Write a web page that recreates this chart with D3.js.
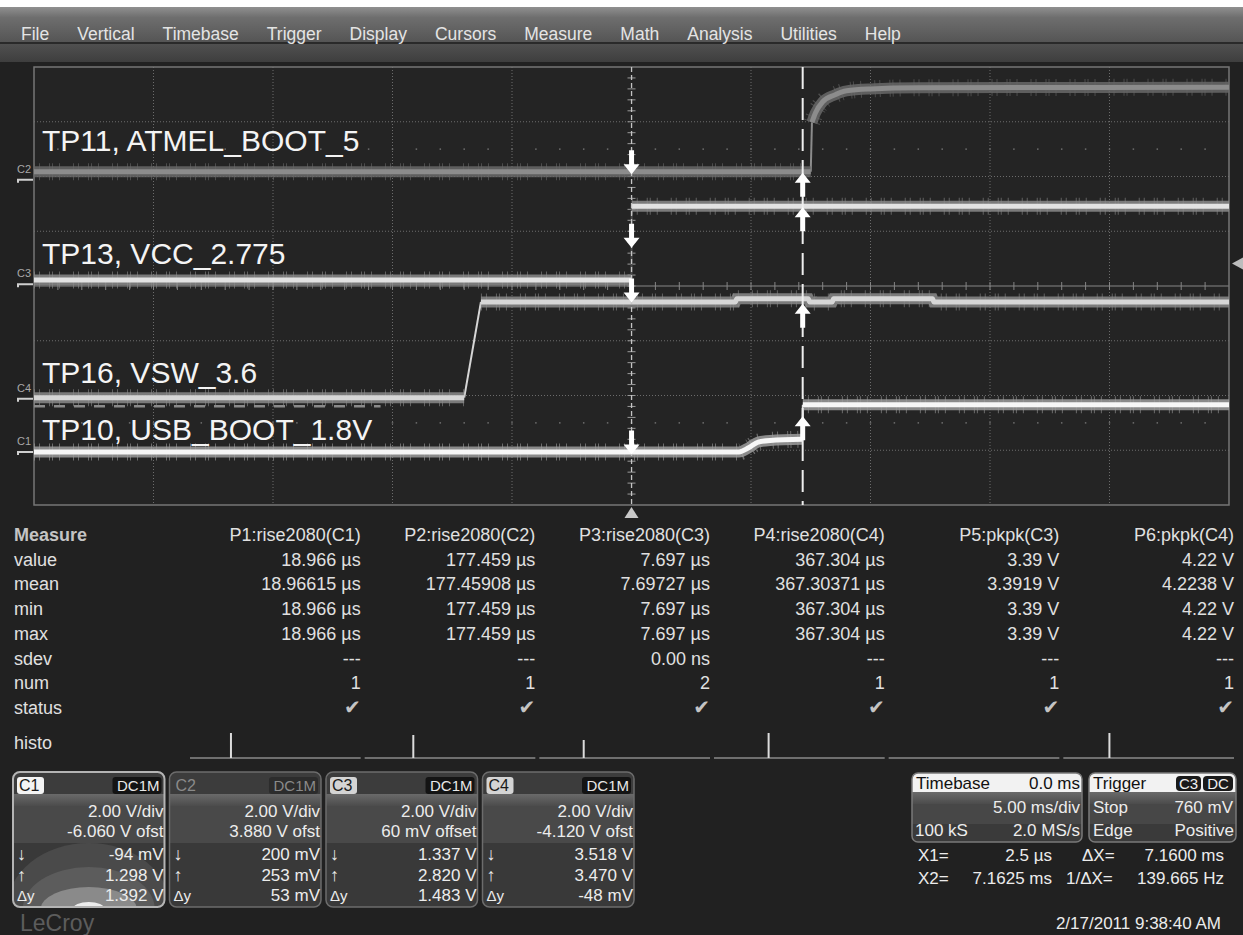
<!DOCTYPE html>
<html lang="en">
<head>
<meta charset="UTF-8">
<title>LeCroy capture</title>
<script src="https://cdn.jsdelivr.net/npm/d3@7"></script>
<style>
  body { margin: 0; background: #212121; }
  svg { display: block; font-family: "Liberation Sans", Arial, sans-serif; }
</style>
</head>
<body>
<script>
// ---- data ----
var menuItems = ["File", "Vertical", "Timebase", "Trigger", "Display", "Cursors", "Measure", "Math", "Analysis", "Utilities", "Help"];

var channels = ["C1", "C2", "C3", "C4"];
var traceNames = ["TP10, USB_BOOT_1.8V", "TP11, ATMEL_BOOT_5", "TP13, VCC_2.775", "TP16, VSW_3.6"];
var couplings = ["DC1M", "DC1M", "DC1M", "DC1M"];
var voltsPerDiv = [2.0, 2.0, 2.0, 2.0];
var offsets = [-6.060, 3.880, 0.060, -4.120];
var offsetLabels = ["-6.060 V ofst", "3.880 V ofst", "60 mV offset", "-4.120 V ofst"];

// cursor readings (volts) at X1 and X2
var x1Time = 0.0025, x2Time = 7.1625;   // ms
var cursorDown = [-0.094, 0.200, 1.337, 3.518];
var cursorUp = [1.298, 0.253, 2.820, 3.470];
var downLabels = ["-94 mV", "200 mV", "1.337 V", "3.518 V"];
var upLabels = ["1.298 V", "253 mV", "2.820 V", "3.470 V"];
var deltaLabels = ["1.392 V", "53 mV", "1.483 V", "-48 mV"];

// traces: [time ms, volts]
var c1Trace = [[-25, 0.0], [4.5, 0.0], [4.9, 0.15], [5.3, 0.36], [5.8, 0.42], [7.15, 0.46], [7.17, 1.72], [25, 1.72]];
var c2Trace = [[-25, 0.29], [7.5, 0.29], [7.55, 2.1], [7.7, 2.45], [8.0, 2.85], [8.5, 3.1], [9.0, 3.25], [10, 3.32], [12, 3.36], [25, 3.38]];
var c3Trace = [[-25, 0.16], [0.0, 0.16], [0.01, 2.85], [25, 2.85]];
var c4Trace = [[-25, 0.04], [-7.0, 0.04], [-6.3, 3.54], [4.35, 3.54], [4.4, 3.65], [7.4, 3.65], [7.45, 3.54],
               [8.4, 3.54], [8.45, 3.65], [12.6, 3.65], [12.65, 3.54], [25, 3.54]];
var c4Ghost = [[-25, -0.27], [-10.5, -0.27]];
var triggerLevel = 0.76; // volts on C3

// measurement table
var measHeaders = ["P1:rise2080(C1)", "P2:rise2080(C2)", "P3:rise2080(C3)", "P4:rise2080(C4)", "P5:pkpk(C3)", "P6:pkpk(C4)"];
var measRows = ["value", "mean", "min", "max", "sdev", "num", "status"];
var measValue = ["18.966 µs", "177.459 µs", "7.697 µs", "367.304 µs", "3.39 V", "4.22 V"];
var measMean = ["18.96615 µs", "177.45908 µs", "7.69727 µs", "367.30371 µs", "3.3919 V", "4.2238 V"];
var measMin = ["18.966 µs", "177.459 µs", "7.697 µs", "367.304 µs", "3.39 V", "4.22 V"];
var measMax = ["18.966 µs", "177.459 µs", "7.697 µs", "367.304 µs", "3.39 V", "4.22 V"];
var measSdev = ["---", "---", "0.00 ns", "---", "---", "---"];
var measNum = ["1", "1", "2", "1", "1", "1"];
var measStatus = ["✔", "✔", "✔", "✔", "✔", "✔"];
var histoPeak = [0.24, 0.285, 0.26, 0.32, null, 0.27];   // spike position inside each histo cell
var histoHeight = [25, 23, 18, 25, 0, 25];

// timebase / trigger / cursors
var timebase = ["Timebase", "0.0 ms", "5.00 ms/div", "100 kS", "2.0 MS/s"];
var trigger = ["Trigger", "C3", "DC", "Stop", "760 mV", "Edge", "Positive"];
var cursorText = [["X1=", "2.5 µs", "ΔX=", "7.1600 ms"], ["X2=", "7.1625 ms", "1/ΔX=", "139.665 Hz"]];
var stamp = "2/17/2011 9:38:40 AM";

// ---- drawing ----
var W = 1243, H = 935;
var x0 = 34, x1 = 1229, y0 = 67, y1 = 505;

var svg = d3.select("body").append("svg").attr("width", W).attr("height", H);
var defs = svg.append("defs");

function vGrad(id, stops) {
    var g = defs.append("linearGradient").attr("id", id)
        .attr("x1", 0).attr("y1", 0).attr("x2", 0).attr("y2", 1);
    stops.forEach(function(s) {
        g.append("stop").attr("offset", s[0]).attr("stop-color", s[1]);
    });
}
vGrad("menuGrad", [["0%", "#909090"], ["30%", "#6e6e6e"], ["100%", "#555555"]]);
vGrad("stripGrad", [["0%", "#505050"], ["100%", "#3e3e3e"]]);
vGrad("bandGrad", [["0%", "#6a6a6a"], ["100%", "#4c4c4c"]]);

svg.append("rect").attr("width", W).attr("height", H).attr("fill", "#212121");
svg.append("rect").attr("width", W).attr("height", 7).attr("fill", "#ffffff");
svg.append("rect").attr("y", 7).attr("width", W).attr("height", 35).attr("fill", "url(#menuGrad)");
svg.append("rect").attr("y", 42).attr("width", W).attr("height", 2).attr("fill", "#2a2a2a");
svg.append("rect").attr("y", 44).attr("width", W).attr("height", 18).attr("fill", "url(#stripGrad)");

// menu bar
var mx = 21;
menuItems.forEach(function(m) {
    var t = svg.append("text").attr("x", mx).attr("y", 40)
        .attr("font-size", 17.5).attr("fill", "#e4e4e4").text(m);
    mx += t.node().getComputedTextLength() + 28;
});

// scales
var x = d3.scaleLinear().domain([-25, 25]).range([x0, x1]);
var yDiv = d3.scaleLinear().domain([-4, 4]).range([y1, y0]);
function chY(ci, v) { return yDiv((v + offsets[ci]) / voltsPerDiv[ci]); }

defs.append("clipPath").attr("id", "plotClip").append("rect")
    .attr("x", x0).attr("y", y0).attr("width", x1 - x0).attr("height", y1 - y0);

var plot = svg.append("g");
plot.append("rect").attr("x", x0).attr("y", y0).attr("width", x1 - x0).attr("height", y1 - y0)
    .attr("fill", "#242424");

// dotted grid
plot.selectAll(".vg").data(d3.range(-20, 25, 5).filter(function(d) { return d !== 0; }))
    .enter().append("line")
    .attr("x1", function(d) { return x(d); }).attr("x2", function(d) { return x(d); })
    .attr("y1", y0).attr("y2", y1)
    .attr("stroke", "#6c6c6c").attr("stroke-dasharray", "1,2");
plot.selectAll(".hg").data(d3.range(-3, 4).filter(function(d) { return d !== 0; }))
    .enter().append("line")
    .attr("y1", function(d) { return yDiv(d); }).attr("y2", function(d) { return yDiv(d); })
    .attr("x1", x0).attr("x2", x1)
    .attr("stroke", "#6c6c6c").attr("stroke-dasharray", "1,2");

// half division dot rows
[2.5, -2.5].forEach(function(dv) {
    plot.selectAll(null).data(d3.range(-24, 25, 1)).enter().append("rect")
        .attr("x", function(d) { return x(d) - 0.75; }).attr("y", yDiv(dv) - 0.75)
        .attr("width", 1.5).attr("height", 1.5).attr("fill", "#6e6e6e");
});

// centre axes
plot.append("line").attr("x1", x0).attr("x2", x1).attr("y1", yDiv(0)).attr("y2", yDiv(0))
    .attr("stroke", "#858585").attr("stroke-width", 1.2);
plot.selectAll(".ht").data(d3.range(-24, 25, 1)).enter().append("line")
    .attr("x1", function(d) { return x(d); }).attr("x2", function(d) { return x(d); })
    .attr("y1", yDiv(0) - 4).attr("y2", yDiv(0) + 4).attr("stroke", "#858585");
plot.selectAll(".vt").data(d3.range(-3.8, 4, 0.2)).enter().append("line")
    .attr("x1", x(0) - 4).attr("x2", x(0) + 4)
    .attr("y1", function(d) { return yDiv(d); }).attr("y2", function(d) { return yDiv(d); })
    .attr("stroke", "#9a9a9a");

plot.append("rect").attr("x", x0).attr("y", y0).attr("width", x1 - x0).attr("height", y1 - y0)
    .attr("fill", "none").attr("stroke", "#767676").attr("stroke-width", 1.5);

// traces
var traces = [
    { ci: 1, data: c2Trace, dim: "#686868", core: "#8c8c8c", curve: d3.curveMonotoneX },
    { ci: 2, data: c3Trace, dim: "#8a8a8a", core: "#e2e2e2", curve: d3.curveLinear },
    { ci: 3, data: c4Trace, dim: "#8a8a8a", core: "#d6d6d6", curve: d3.curveLinear },
    { ci: 0, data: c1Trace, dim: "#9c9c9c", core: "#f6f6f6", curve: d3.curveMonotoneX }
];
var traceG = svg.append("g").attr("clip-path", "url(#plotClip)");

traceG.append("path").datum(c4Ghost)
    .attr("d", d3.line().x(function(d) { return x(d[0]); }).y(function(d) { return chY(3, d[1]); }))
    .attr("fill", "none").attr("stroke", "#8a8a8a").attr("stroke-width", 2.5)
    .attr("stroke-dasharray", "11,9");

// fast edges are drawn thin, the flat parts get the noisy band
function splitRuns(data, ci) {
    var runs = [], steep = [], cur = [data[0]];
    for (var k = 1; k < data.length; k++) {
        var a = data[k - 1], b = data[k];
        var dx = Math.abs(x(b[0]) - x(a[0])), dy = Math.abs(chY(ci, b[1]) - chY(ci, a[1]));
        if (dy > 3 * dx) {
            if (cur.length > 1) runs.push(cur);
            steep.push([a, b]);
            cur = [b];
        } else {
            cur.push(b);
        }
    }
    if (cur.length > 1) runs.push(cur);
    return { runs: runs, steep: steep };
}

traces.forEach(function(tr) {
    var line = d3.line().curve(tr.curve)
        .x(function(d) { return x(d[0]); })
        .y(function(d) { return chY(tr.ci, d[1]); });
    var parts = splitRuns(tr.data, tr.ci);
    parts.steep.forEach(function(s) {
        traceG.append("path").datum(s).attr("d", d3.line()
                .x(function(d) { return x(d[0]); })
                .y(function(d) { return chY(tr.ci, d[1]); }))
            .attr("fill", "none").attr("stroke", tr.ci === 2 ? "#4a4a4a" : tr.core)
            .attr("stroke-width", 2);
    });
    parts.runs.forEach(function(run) {
        traceG.append("path").datum(run).attr("d", line)
            .attr("fill", "none").attr("stroke", tr.dim).attr("stroke-width", 11)
            .attr("stroke-linecap", "butt").attr("opacity", 0.85);
        traceG.append("path").datum(run).attr("d", line)
            .attr("fill", "none").attr("stroke", tr.dim).attr("stroke-width", 17)
            .attr("stroke-dasharray", "1,4,1,9,1,2,1,6,1,13").attr("opacity", 0.6);
        traceG.append("path").datum(run).attr("d", line)
            .attr("fill", "none").attr("stroke", tr.core).attr("stroke-width", 5)
            .attr("stroke-linejoin", "round");
    });
});

// trace names
var labelLift = [12, 29, 20, 16];
channels.forEach(function(ch, i) {
    svg.append("text").attr("x", 42).attr("y", chY(i, 0) - labelLift[i])
        .attr("font-size", 30).attr("fill", "#f4f4f4").text(traceNames[i]);
});

// channel ground markers
channels.forEach(function(ch, i) {
    var gy = chY(i, 0);
    svg.append("path").attr("d", "M18," + (gy + 3) + "L18," + gy + "L33," + gy)
        .attr("fill", "none").attr("stroke", "#cfcfcf").attr("stroke-width", 2);
    svg.append("text").attr("x", 17).attr("y", gy - 7).attr("font-size", 11)
        .attr("fill", "#a8a8a8").text(ch);
});

// cursors
svg.append("line").attr("x1", x(x1Time)).attr("x2", x(x1Time)).attr("y1", y0).attr("y2", y1)
    .attr("stroke", "#c4c4c4").attr("stroke-width", 1.3).attr("stroke-dasharray", "5,3");
svg.append("line").attr("x1", x(x2Time)).attr("x2", x(x2Time)).attr("y1", y0).attr("y2", y1)
    .attr("stroke", "#eeeeee").attr("stroke-width", 2).attr("stroke-dasharray", "22,9");

function arrow(cx, tip, dir) {
    // dir = 1 points down, -1 points up
    var s = dir;
    return "M" + (cx - 2.5) + "," + (tip - s * 24) + "L" + (cx + 2.5) + "," + (tip - s * 24) +
        "L" + (cx + 2.5) + "," + (tip - s * 10) + "L" + (cx + 8) + "," + (tip - s * 10) +
        "L" + cx + "," + tip + "L" + (cx - 8) + "," + (tip - s * 10) +
        "L" + (cx - 2.5) + "," + (tip - s * 10) + "Z";
}
channels.forEach(function(ch, i) {
    svg.append("path").attr("d", arrow(x(x1Time), chY(i, cursorDown[i]), 1)).attr("fill", "#ffffff");
    svg.append("path").attr("d", arrow(x(x2Time), chY(i, cursorUp[i]), -1)).attr("fill", "#ffffff");
});

// trigger markers
var tx = x(0);
svg.append("path").attr("d", "M" + tx + ",507L" + (tx + 7) + ",518L" + (tx - 7) + ",518Z").attr("fill", "#c8c8c8");
var ty = chY(2, triggerLevel);
svg.append("path").attr("d", "M1232," + ty + "L1243," + (ty - 6) + "L1243," + (ty + 6) + "Z").attr("fill", "#bdbdbd");

// ---- measurement table ----
var col = d3.scaleBand().domain(measHeaders).range([186, 1234]);
var rowY = d3.scaleLinear().domain([0, 1]).range([541, 565.7]);
var table = svg.append("g").attr("font-size", 18);
table.append("text").attr("x", 14).attr("y", rowY(0)).attr("font-weight", "bold")
    .attr("fill", "#c4c4c4").text("Measure");
table.selectAll(".hd").data(measHeaders).enter().append("text")
    .attr("x", function(d) { return col(d) + col.bandwidth(); }).attr("y", rowY(0))
    .attr("text-anchor", "end").attr("fill", "#e0e0e0").text(function(d) { return d; });

var rowData = [measValue, measMean, measMin, measMax, measSdev, measNum, measStatus];
measRows.forEach(function(r, ri) {
    var yy = rowY(ri + 1);
    table.append("text").attr("x", 14).attr("y", yy).attr("fill", "#e0e0e0").text(r);
    table.selectAll(null).data(rowData[ri]).enter().append("text")
        .attr("x", function(d, k) { return col(measHeaders[k]) + col.bandwidth(); })
        .attr("y", yy).attr("text-anchor", "end")
        .attr("fill", ri === 6 ? "#c4c4c4" : "#e0e0e0")
        .attr("font-family", ri === 6 ? "DejaVu Sans" : null)
        .attr("font-size", ri === 6 ? 20 : 18)
        .text(function(d) { return d; });
});

// histo row
table.append("text").attr("x", 14).attr("y", 749).attr("fill", "#e0e0e0").text("histo");
measHeaders.forEach(function(h, k) {
    var cx0 = col(h) + 4, cx1 = col(h) + col.bandwidth();
    table.append("line").attr("x1", cx0).attr("x2", cx1).attr("y1", 758).attr("y2", 758)
        .attr("stroke", "#8a8a8a").attr("stroke-width", 1.5);
    if (histoPeak[k] !== null) {
        var hx = cx0 + histoPeak[k] * (cx1 - cx0);
        table.append("line").attr("x1", hx).attr("x2", hx).attr("y1", 758 - histoHeight[k]).attr("y2", 758)
            .attr("stroke", "#dcdcdc").attr("stroke-width", 2);
    }
});

// ---- channel boxes ----
var boxX = d3.scaleBand().domain(channels).range([13, 634]).paddingInner(0.032);
var boxTop = 772, boxBot = 907;
channels.forEach(function(ch, i) {
    var bx = boxX(ch), bw = boxX.bandwidth();
    var clipId = "boxClip" + i;
    defs.append("clipPath").attr("id", clipId).append("rect")
        .attr("x", bx).attr("y", boxTop).attr("width", bw).attr("height", boxBot - boxTop).attr("rx", 7);
    var g = svg.append("g");
    var inner = g.append("g").attr("clip-path", "url(#" + clipId + ")");
    inner.append("rect").attr("x", bx).attr("y", boxTop).attr("width", bw).attr("height", 22).attr("fill", "#3c3c3c");
    inner.append("rect").attr("x", bx).attr("y", 794).attr("width", bw).attr("height", 12).attr("fill", "url(#bandGrad)");
    inner.append("rect").attr("x", bx).attr("y", 806).attr("width", bw).attr("height", 37).attr("fill", "#494949");
    inner.append("rect").attr("x", bx).attr("y", 843).attr("width", bw).attr("height", 64).attr("fill", "#393939");
    if (i === 0) {
        var ex = bx + bw / 2, ey = boxBot + 2;
        [[82, 66, "#4a4a4a"], [66, 42, "#5c5c5c"], [48, 22, "#8a8a8a"], [16, 7, "#ececec"]].forEach(function(e) {
            inner.append("ellipse").attr("cx", ex).attr("cy", ey).attr("rx", e[0]).attr("ry", e[1]).attr("fill", e[2]);
        });
    }
    g.append("rect").attr("x", bx).attr("y", boxTop).attr("width", bw).attr("height", boxBot - boxTop).attr("rx", 7)
        .attr("fill", "none").attr("stroke", i === 0 ? "#b4b4b4" : "#6c6c6c").attr("stroke-width", i === 0 ? 2 : 1.5);

    // channel tag
    if (i !== 1) {
        g.append("rect").attr("x", bx + 4).attr("y", 777).attr("width", 27).attr("height", 17).attr("rx", 3)
            .attr("fill", i === 0 ? "#f4f4f4" : "#d4d4d4");
    }
    g.append("text").attr("x", bx + 6).attr("y", 791).attr("font-size", 16)
        .attr("fill", i === 1 ? "#8a8a8a" : "#1a1a1a").text(ch);
    g.append("rect").attr("x", bx + bw - 52).attr("y", 777).attr("width", 49).attr("height", 17).attr("rx", 3)
        .attr("fill", i === 1 ? "#2c2c2c" : "#141414");
    g.append("text").attr("x", bx + bw - 5).attr("y", 791).attr("font-size", 15).attr("text-anchor", "end")
        .attr("fill", i === 1 ? "#8a8a8a" : "#e8e8e8").text(couplings[i]);

    var right = bx + bw - 1;
    var rows = [[817, voltsPerDiv[i].toFixed(2) + " V/div", ""], [837, offsetLabels[i], ""],
                [860, downLabels[i], "↓"], [881, upLabels[i], "↑"], [901, deltaLabels[i], "Δy"]];
    rows.forEach(function(r) {
        g.append("text").attr("x", right).attr("y", r[0]).attr("font-size", 17)
            .attr("text-anchor", "end").attr("fill", "#ececec").text(r[1]);
        if (r[2]) {
            g.append("text").attr("x", bx + 4).attr("y", r[0]).attr("font-size", r[2] === "Δy" ? 15 : 18)
                .attr("fill", "#ececec").text(r[2]);
        }
    });
});

// ---- timebase and trigger boxes ----
function infoBox(bx, bw) {
    var id = "ib" + bx;
    defs.append("clipPath").attr("id", id).append("rect")
        .attr("x", bx).attr("y", 773).attr("width", bw).attr("height", 69).attr("rx", 6);
    var g = svg.append("g");
    var inner = g.append("g").attr("clip-path", "url(#" + id + ")");
    inner.append("rect").attr("x", bx).attr("y", 773).attr("width", bw).attr("height", 19).attr("fill", "#f2f2f2");
    inner.append("rect").attr("x", bx).attr("y", 792).attr("width", bw).attr("height", 12).attr("fill", "url(#bandGrad)");
    inner.append("rect").attr("x", bx).attr("y", 804).attr("width", bw).attr("height", 20).attr("fill", "#474747");
    inner.append("rect").attr("x", bx).attr("y", 824).attr("width", bw).attr("height", 18).attr("fill", "#3a3a3a");
    g.append("rect").attr("x", bx).attr("y", 773).attr("width", bw).attr("height", 69).attr("rx", 6)
        .attr("fill", "none").attr("stroke", "#7a7a7a").attr("stroke-width", 1.5);
    return g;
}
var tb = infoBox(912, 170);
tb.append("text").attr("x", 916).attr("y", 789).attr("font-size", 17).attr("fill", "#111").text(timebase[0]);
tb.append("text").attr("x", 1080).attr("y", 789).attr("font-size", 17).attr("text-anchor", "end").attr("fill", "#111").text(timebase[1]);
tb.append("text").attr("x", 1080).attr("y", 813).attr("font-size", 17).attr("text-anchor", "end").attr("fill", "#ececec").text(timebase[2]);
tb.append("text").attr("x", 915).attr("y", 836).attr("font-size", 17).attr("fill", "#ececec").text(timebase[3]);
tb.append("text").attr("x", 1080).attr("y", 836).attr("font-size", 17).attr("text-anchor", "end").attr("fill", "#ececec").text(timebase[4]);

var tg = infoBox(1089, 147);
tg.append("text").attr("x", 1093).attr("y", 789).attr("font-size", 17).attr("fill", "#111").text(trigger[0]);
tg.append("rect").attr("x", 1176).attr("y", 776).attr("width", 25).attr("height", 15).attr("rx", 4).attr("fill", "#1a1a1a");
tg.append("rect").attr("x", 1203).attr("y", 776).attr("width", 30).attr("height", 15).attr("rx", 4).attr("fill", "#1a1a1a");
tg.append("text").attr("x", 1188.5).attr("y", 789).attr("font-size", 15).attr("text-anchor", "middle").attr("fill", "#f0f0f0").text(trigger[1]);
tg.append("text").attr("x", 1218).attr("y", 789).attr("font-size", 15).attr("text-anchor", "middle").attr("fill", "#f0f0f0").text(trigger[2]);
tg.append("text").attr("x", 1093).attr("y", 813).attr("font-size", 17).attr("fill", "#ececec").text(trigger[3]);
tg.append("text").attr("x", 1233).attr("y", 813).attr("font-size", 17).attr("text-anchor", "end").attr("fill", "#ececec").text(trigger[4]);
tg.append("text").attr("x", 1093).attr("y", 836).attr("font-size", 17).attr("fill", "#ececec").text(trigger[5]);
tg.append("text").attr("x", 1234).attr("y", 836).attr("font-size", 17).attr("text-anchor", "end").attr("fill", "#ececec").text(trigger[6]);

// cursor readouts
cursorText.forEach(function(r, k) {
    var yy = 861 + k * 23;
    svg.append("text").attr("x", 918).attr("y", yy).attr("font-size", 17).attr("fill", "#ececec").text(r[0]);
    svg.append("text").attr("x", 1052).attr("y", yy).attr("font-size", 17).attr("text-anchor", "end").attr("fill", "#ececec").text(r[1]);
    svg.append("text").attr("x", k === 0 ? 1082 : 1066).attr("y", yy).attr("font-size", 17).attr("fill", "#ececec").text(r[2]);
    svg.append("text").attr("x", 1224).attr("y", yy).attr("font-size", 17).attr("text-anchor", "end").attr("fill", "#ececec").text(r[3]);
});

svg.append("text").attr("x", 1221).attr("y", 929).attr("font-size", 17).attr("text-anchor", "end")
    .attr("fill", "#ececec").text(stamp);

// logo
svg.append("text").attr("x", 20).attr("y", 931).attr("font-size", 23).attr("fill", "#5c5c5c").text("LeCroy");
</script>
</body>
</html>
